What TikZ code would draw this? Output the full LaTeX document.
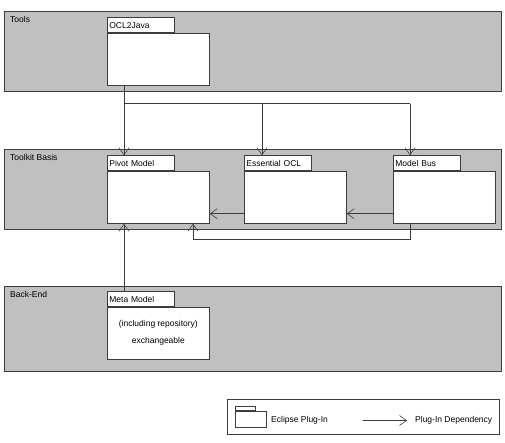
\documentclass[tikz,border=0pt]{standalone}
\usepackage{fontspec}
\setmainfont{Liberation Sans}
\usepackage{tikz}
\usetikzlibrary{arrows.meta}
\usetikzlibrary{positioning}
\usetikzlibrary{calc, backgrounds}

\definecolor{bandgray}{RGB}{192,192,192}
\definecolor{linegray}{RGB}{60,60,60}
\pgfdeclarelayer{lines}
\pgfsetlayers{background,lines,main}

\begin{document}
\begin{tikzpicture}[x=1pt,y=-1pt,font=\fontsize{8.5}{10}\selectfont]
\tikzstyle{band}=[rectangle,draw=linegray,fill=bandgray,line width=0.8pt,anchor=north west,minimum width=497pt]
\tikzstyle{band label}=[anchor=north west,inner sep=0pt]
\tikzstyle{pkg body}=[rectangle,draw=linegray,fill=white,line width=0.7pt,anchor=north west,minimum width=102pt,minimum height=52pt,inner sep=0pt]
\tikzstyle{pkg tab}=[rectangle,draw=linegray,fill=white,line width=0.7pt,minimum width=67pt,minimum height=15pt,inner sep=2pt,text width=63pt,align=left]
\tikzset{
  dep/.style = {draw=linegray,line width=0.6pt,-{Straight Barb[length=7pt,width=10pt]}},
  plain/.style = {draw=linegray,line width=0.6pt}
}

\useasboundingbox (0,0) rectangle (505,443);

% layers
\begin{pgfonlayer}{background}
\node[band,minimum height=80pt] (tools) at (4,11) {};
\node[band,minimum height=80pt] (basis) at (4,149) {};
\node[band,minimum height=85pt] (backend) at (4,286) {};
\end{pgfonlayer}
\node[band label] (toolslbl) at (10,16) {Tools};
\node[band label] (basislbl) at (10,154) {Toolkit Basis};
\node[band label] (backendlbl) at (10,291) {Back-End};

% plug-ins
\node[pkg body] (ocl) at (107,33) {};
\node[pkg tab] (ocltab) [above right=0pt and 0pt of ocl.north west, anchor=south west] {OCL2Java};
\node[pkg body] (pivot) at (107,171) {};
\node[pkg tab] (pivottab) [above right=0pt and 0pt of pivot.north west, anchor=south west] {Pivot Model};
\node[pkg body] (essocl) at (244,171) {};
\node[pkg tab] (essocltab) [above right=0pt and 0pt of essocl.north west, anchor=south west] {Essential OCL};
\node[pkg body] (bus) at (393,171) {};
\node[pkg tab] (bustab) [above right=0pt and 0pt of bus.north west, anchor=south west] {Model Bus};
\node[pkg body] (meta) at (107,307) {};
\node[pkg tab] (metatab) [above right=0pt and 0pt of meta.north west, anchor=south west] {Meta Model};
\node (metatxt1) at ($(meta.north)+(0,17)$) {(including repository)};
\node (metatxt2) at ($(meta.north)+(0,34)$) {exchangeable};

%%%%%%%%%%%%%%%%%%%%%%%%%%%%%%%%%%
\coordinate (oclout) at ($(ocl.south west)+(17,0)$);
\coordinate (fork) at ($(ocl.south west)+(17,18)$);
\coordinate (pivotin) at ($(pivottab.north west)+(17,0)$);
\coordinate (essin) at ($(essocltab.north west)+(18,0)$);
\coordinate (busin) at ($(bustab.north west)+(17,0)$);
\coordinate (busout) at ($(bus.south west)+(17,0)$);
\coordinate (busdrop) at ($(bus.south west)+(17,16)$);
\coordinate (pivotback) at ($(pivot.south west)+(86,0)$);
\coordinate (pivotbottom) at ($(pivot.south west)+(17,0)$);
\coordinate (metaout) at ($(metatab.north west)+(17,0)$);

\begin{pgfonlayer}{lines}
\draw[plain] (oclout) -- (fork) -- (fork -| busin);
\path[dep]
    (fork) edge (pivotin)
    (fork -| essin) edge (essin)
    (fork -| busin) edge (busin)
    ($(essocl.south west)+(0,-10)$) edge ($(pivot.south east)+(0,-10)$)
    ($(bus.south west)+(0,-10)$) edge ($(essocl.south east)+(0,-10)$)
    (metaout) edge (pivotbottom)
;
\draw[dep] (busout) -- (busdrop) -| (pivotback);
\end{pgfonlayer}

% legend
\node[rectangle,draw=linegray,line width=0.7pt,anchor=north west,minimum width=272pt,minimum height=35pt] (legend) at (227,399) {};
\node[rectangle,draw=linegray,line width=0.6pt,anchor=north west,minimum width=31pt,minimum height=16pt,inner sep=0pt] (legpkg) at (235,411) {};
\node[rectangle,draw=linegray,line width=0.6pt,minimum width=20pt,minimum height=4pt,inner sep=0pt] (legtab) [above right=0pt and 0pt of legpkg.north west, anchor=south west] {};
\node[anchor=west,inner sep=0pt] (legpkglbl) at (271,420.5) {Eclipse Plug-In};
\node[anchor=west,inner sep=0pt] (legdeplbl) at (415,420.5) {Plug-In Dependency};
\coordinate (legarrow) at (363,420.5);
\draw[dep] (legarrow) -- ($(legdeplbl.west)+(-8,0)$);
\end{tikzpicture}
\end{document}
